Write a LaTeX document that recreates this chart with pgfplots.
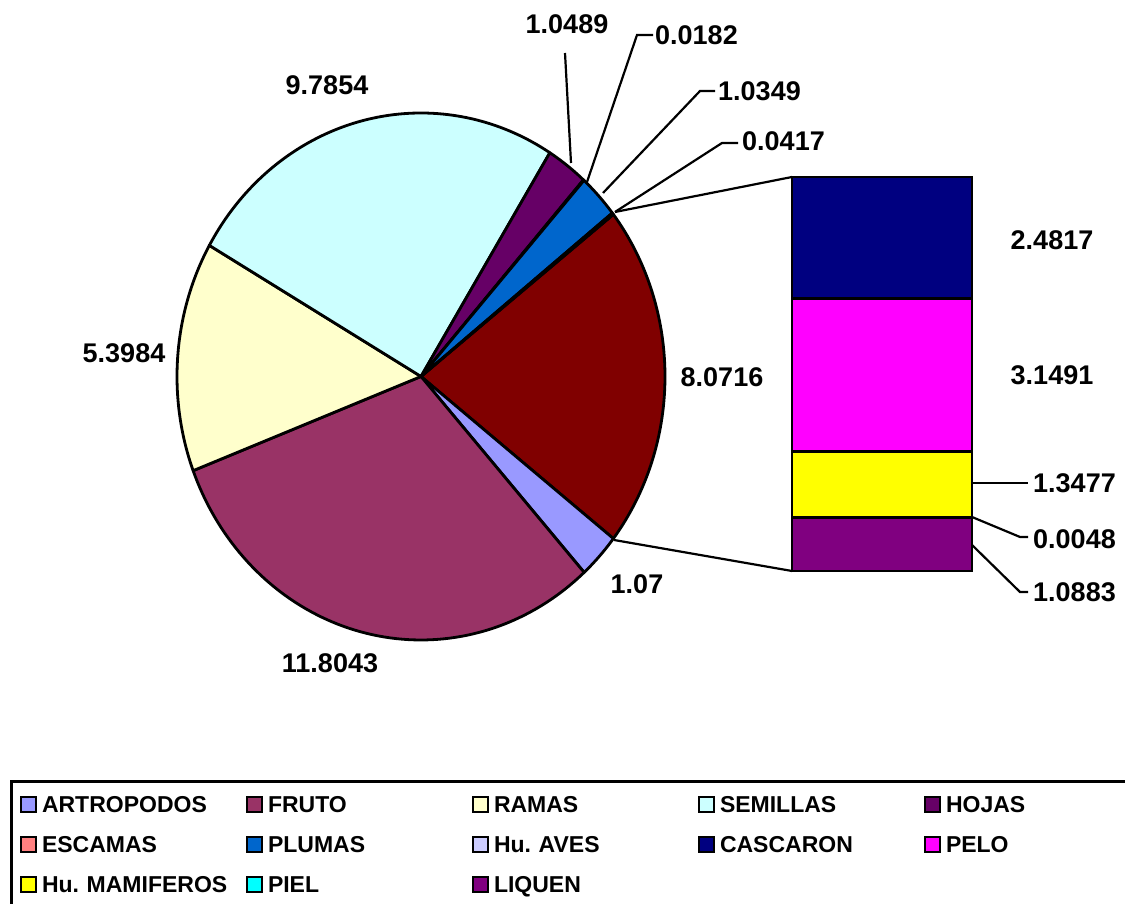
\documentclass[border=0pt]{standalone}
\usepackage{pgfplots}
\pgfplotsset{compat=1.18}
\usepackage{fontspec}
\setmainfont{Liberation Sans}
\definecolor{cArt}{HTML}{9999FF}
\definecolor{cFruto}{HTML}{993366}
\definecolor{cRamas}{HTML}{FFFFCC}
\definecolor{cSem}{HTML}{CCFFFF}
\definecolor{cHojas}{HTML}{660066}
\definecolor{cEsc}{HTML}{FF8080}
\definecolor{cPlumas}{HTML}{0066CC}
\definecolor{cAves}{HTML}{CCCCFF}
\definecolor{cCasc}{HTML}{000080}
\definecolor{cPelo}{HTML}{FF00FF}
\definecolor{cMamif}{HTML}{FFFF00}
\definecolor{cPiel}{HTML}{00FFFF}
\definecolor{cLiq}{HTML}{800080}
\definecolor{cOtros}{HTML}{800000}
\newcommand\lbl{\fontsize{27}{30}\selectfont\bfseries}
\newcommand\pieslice[2]{%
  \pgfmathsetmacro\aEnd{\curA}%
  \pgfmathsetmacro\aStart{\curA-(#2)*\kk}%
  \edef\tmp{\noexpand\addplot[forget plot, fill=#1, draw=black, line width=2.8pt, line join=round, domain=\aStart:\aEnd, samples=80] ({421+244*cos(x)},{527.5+263.5*sin(x)}) -- (axis cs:421,527.5) -- cycle;}%
  \tmp
  \global\let\curA\aStart}
\begin{document}
\begin{tikzpicture}
\pgfmathsetmacro\vOtros{2.4817+3.1491+1.3477+0.0048+1.0883}
\pgfmathsetmacro\vTotal{1.07+11.8043+5.3984+9.7854+1.0489+0.0182+1.0349+0.0417+\vOtros}
\pgfmathsetmacro\kk{360/\vTotal}
\pgfmathsetmacro\halfO{\vOtros*\kk/2}
\pgfmathsetmacro\curA{-\halfO}
\global\let\curA\curA
\begin{axis}[at={(0pt,0pt)}, anchor=south west, width=1125pt, height=904pt, scale only axis,
  xmin=0, xmax=1125, ymin=0, ymax=904, hide axis, clip=false,
  legend columns=5, legend cell align=left,
  legend image code/.code={\draw[#1] (0pt,-7.5pt) rectangle (15pt,7.5pt);},
  legend style={at={(0.008889,0.137168)}, anchor=north west, draw=black, line width=3pt, fill=white,
    inner xsep=8.5pt, inner ysep=3pt, font=\fontsize{23}{24}\selectfont\bfseries,
    nodes={inner xsep=5pt, inner ysep=0pt, text width=199pt, minimum height=40pt, text depth=0pt},
    column sep=0pt, row sep=0pt}]
\addplot[forget plot, fill=cOtros, draw=black, line width=2.8pt, line join=round, domain=-\halfO:\halfO, samples=80] ({421+244*cos(x)},{527.5+263.5*sin(x)}) -- (axis cs:421,527.5) -- cycle;
\pieslice{cArt}{1.07}
\pieslice{cFruto}{11.8043}
\pieslice{cRamas}{5.3984}
\pieslice{cSem}{9.7854}
\pieslice{cHojas}{1.0489}
\pieslice{cEsc}{0.0182}
\pieslice{cPlumas}{1.0349}
\pieslice{cAves}{0.0417}
% legend
\addlegendimage{fill=cArt, draw=black, line width=2pt}\addlegendentry{ARTROPODOS}
\addlegendimage{fill=cFruto, draw=black, line width=2pt}\addlegendentry{FRUTO}
\addlegendimage{fill=cRamas, draw=black, line width=2pt}\addlegendentry{RAMAS}
\addlegendimage{fill=cSem, draw=black, line width=2pt}\addlegendentry{SEMILLAS}
\addlegendimage{fill=cHojas, draw=black, line width=2pt}\addlegendentry{HOJAS}
\addlegendimage{fill=cEsc, draw=black, line width=2pt}\addlegendentry{ESCAMAS}
\addlegendimage{fill=cPlumas, draw=black, line width=2pt}\addlegendentry{PLUMAS}
\addlegendimage{fill=cAves, draw=black, line width=2pt}\addlegendentry{Hu.\ AVES}
\addlegendimage{fill=cCasc, draw=black, line width=2pt}\addlegendentry{CASCARON}
\addlegendimage{fill=cPelo, draw=black, line width=2pt}\addlegendentry{PELO}
\addlegendimage{fill=cMamif, draw=black, line width=2pt}\addlegendentry{Hu.\ MAMIFEROS}
\addlegendimage{fill=cPiel, draw=black, line width=2pt}\addlegendentry{PIEL}
\addlegendimage{fill=cLiq, draw=black, line width=2pt}\addlegendentry{LIQUEN}
% leaders and connectors
\draw[line width=2.2pt] (axis cs:565,851) -- (axis cs:571,741);
\draw[line width=2.2pt] (axis cs:653,869) -- (axis cs:637,869) -- (axis cs:587,722);
\draw[line width=2.2pt] (axis cs:715,813) -- (axis cs:700,813) -- (axis cs:603,711);
\draw[line width=2.2pt] (axis cs:738,761) -- (axis cs:722,761) -- (axis cs:615,692);
\draw[line width=2.2pt] (axis cs:615,692) -- (axis cs:792,727);
\draw[line width=2.2pt] (axis cs:614,364) -- (axis cs:792,333);
\draw[line width=2.2pt] (axis cs:972,421) -- (axis cs:1028,421);
\draw[line width=2.2pt] (axis cs:972,387) -- (axis cs:1020,367) -- (axis cs:1028,367);
\draw[line width=2.2pt] (axis cs:972,359) -- (axis cs:1020,312) -- (axis cs:1028,312);
% labels
\node[font=\lbl] at (axis cs:327,819) {9.7854};
\node[font=\lbl] at (axis cs:567,880) {1.0489};
\node[font=\lbl, anchor=west, inner sep=0pt] at (axis cs:655,869) {0.0182};
\node[font=\lbl, anchor=west, inner sep=0pt] at (axis cs:718,813) {1.0349};
\node[font=\lbl, anchor=west, inner sep=0pt] at (axis cs:742,763) {0.0417};
\node[font=\lbl] at (axis cs:124,551) {5.3984};
\node[font=\lbl] at (axis cs:722,527) {8.0716};
\node[font=\lbl] at (axis cs:637,320) {1.07};
\node[font=\lbl] at (axis cs:330,241) {11.8043};
\node[font=\lbl] at (axis cs:1052,664) {2.4817};
\node[font=\lbl] at (axis cs:1052,529) {3.1491};
\node[font=\lbl, anchor=west, inner sep=0pt] at (axis cs:1033,421) {1.3477};
\node[font=\lbl, anchor=west, inner sep=0pt] at (axis cs:1033,365) {0.0048};
\node[font=\lbl, anchor=west, inner sep=0pt] at (axis cs:1033,312) {1.0883};
\end{axis}
\begin{axis}[at={(792pt,333pt)}, anchor=south west, width=180pt, height=394pt, scale only axis,
  xmin=-0.5, xmax=0.5, ymin=0, ymax=8.0716, hide axis, clip=false,
  ybar stacked, bar width=180pt,
  every axis plot/.append style={draw=black, line width=2.8pt}]
\addplot[fill=cLiq, draw=black] coordinates {(0,1.0883)};
\addplot[fill=cPiel, draw=black] coordinates {(0,0.0048)};
\addplot[fill=cMamif, draw=black] coordinates {(0,1.3477)};
\addplot[fill=cPelo, draw=black] coordinates {(0,3.1491)};
\addplot[fill=cCasc, draw=black] coordinates {(0,2.4817)};
\end{axis}
\pgfresetboundingbox
\useasboundingbox (0pt,0pt) rectangle (1125pt,904pt);
\end{tikzpicture}
\end{document}
